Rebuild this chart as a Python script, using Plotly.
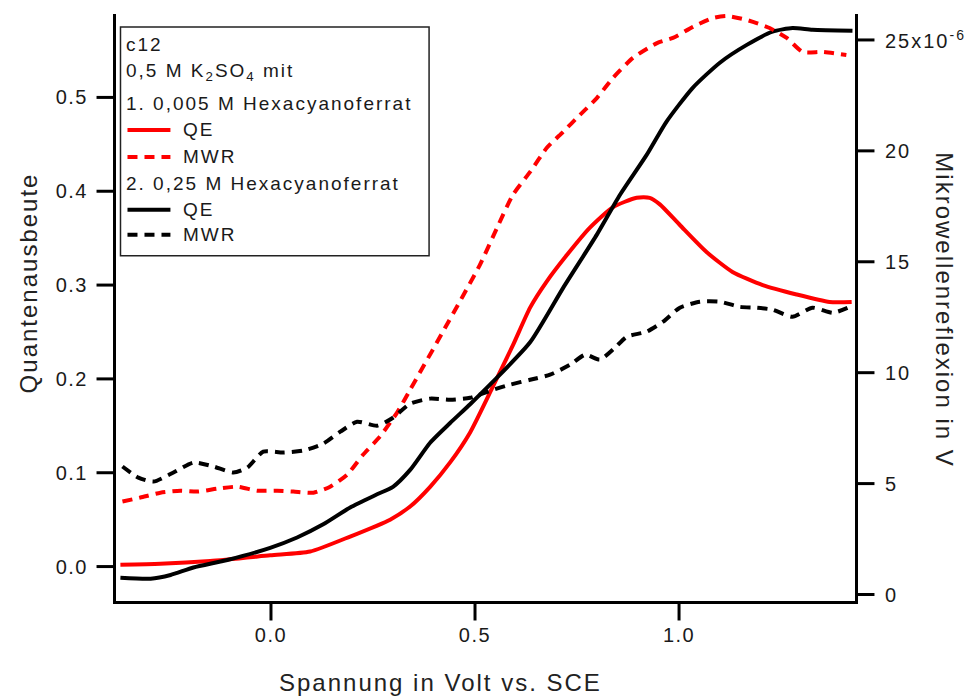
import plotly.graph_objects as go

# ---------------- data ----------------
# Red: 0.005 M Hexacyanoferrat
qe1_x = [-0.369, -0.271, -0.149, -0.002, 0.096, 0.194, 0.292, 0.341, 0.390, 0.439, 0.488, 0.544,
         0.593, 0.635, 0.676, 0.725, 0.781, 0.838, 0.896, 0.928, 0.953, 1.002, 1.068, 1.131, 1.205,
         1.288, 1.369, 1.423]
qe1_y = [0.002, 0.003, 0.006, 0.012, 0.016, 0.032, 0.050, 0.064, 0.085, 0.111, 0.143, 0.192,
         0.236, 0.276, 0.304, 0.332, 0.361, 0.383, 0.393, 0.393, 0.386, 0.364, 0.335, 0.314, 0.300,
         0.290, 0.282, 0.282]
mwr1_x = [-0.364, -0.320, -0.271, -0.222, -0.180, -0.131, -0.082, -0.034, 0.015, 0.055, 0.104, 0.145,
          0.187, 0.226, 0.267, 0.309, 0.341, 0.426, 0.512, 0.554, 0.593, 0.635, 0.676, 0.716, 0.757,
          0.799, 0.838, 0.887, 0.946, 0.985, 1.034, 1.083, 1.117, 1.166, 1.222, 1.264, 1.303, 1.352,
          1.410]
mwr1_y = [4.19, 4.37, 4.59, 4.68, 4.64, 4.77, 4.86, 4.68, 4.68, 4.64, 4.59, 4.86,
          5.41, 6.31, 7.12, 8.20, 9.23, 12.0, 14.86, 16.53, 18.02, 19.05, 20.14, 20.86, 21.62,
          22.39, 23.29, 24.19, 24.86, 25.09, 25.59, 25.99, 26.08, 25.90, 25.54, 25.09, 24.46, 24.46,
          24.32]
# Black: 0.25 M Hexacyanoferrat
qe2_x = [-0.369, -0.295, -0.246, -0.190, -0.107, -0.002, 0.064, 0.128, 0.194, 0.260, 0.299, 0.341,
         0.390, 0.439, 0.488, 0.544, 0.635, 0.716, 0.799, 0.855, 0.921, 0.969, 1.033, 1.100, 1.166,
         1.229, 1.278, 1.327, 1.425]
qe2_y = [-0.012, -0.013, -0.009, -0.001, 0.007, 0.020, 0.031, 0.045, 0.063, 0.077, 0.085, 0.103,
         0.132, 0.153, 0.173, 0.197, 0.239, 0.297, 0.354, 0.396, 0.439, 0.474, 0.510, 0.537, 0.556,
         0.570, 0.574, 0.572, 0.571]
mwr2_x = [-0.364, -0.325, -0.288, -0.239, -0.190, -0.141, -0.092, -0.058, -0.019, 0.030, 0.079, 0.128,
          0.170, 0.211, 0.260, 0.299, 0.341, 0.390, 0.439, 0.488, 0.544, 0.586, 0.635, 0.684, 0.733,
          0.770, 0.806, 0.843, 0.872, 0.921, 0.961, 1.002, 1.051, 1.100, 1.149, 1.190, 1.229, 1.278,
          1.327, 1.377, 1.414]
mwr2_y = [5.77, 5.27, 5.09, 5.50, 5.95, 5.77, 5.50, 5.72, 6.44, 6.40, 6.49, 6.80,
          7.34, 7.79, 7.61, 7.97, 8.60, 8.83, 8.78, 8.87, 9.23, 9.46, 9.68, 9.91, 10.36,
          10.81, 10.59, 11.13, 11.62, 11.85, 12.30, 12.93, 13.20, 13.20, 12.97, 12.93, 12.84, 12.52,
          12.93, 12.70, 12.93]

x_ticks = [0.0, 0.5, 1.0]
x_ticklabels = ["0.0", "0.5", "1.0"]
y_ticks = [0.0, 0.1, 0.2, 0.3, 0.4, 0.5]
y_ticklabels = ["0.0", "0.1", "0.2", "0.3", "0.4", "0.5"]
y2_ticks = [0, 5, 10, 15, 20, 25]
y2_ticklabels = ["0", "5", "10", "15", "20", "25x10<sup>-6</sup>"]

x_title = "Spannung in Volt vs. SCE"
y_title = "Quantenausbeute"
y2_title = "Mikrowellenreflexion in V"
legend_lines = [
    ("text", "c12"),
    ("text", "0,5 M K<sub>2</sub>SO<sub>4</sub> mit"),
    ("text", "1. 0,005 M Hexacyanoferrat"),
    ("red_solid", "QE"),
    ("red_dash", "MWR"),
    ("text", "2. 0,25 M Hexacyanoferrat"),
    ("black_solid", "QE"),
    ("black_dash", "MWR"),
]

# ---------------- layout geometry (pixels) ----------------
W, H = 969, 697
PL, PR, PT, PB = 115.5, 855.5, 14, 601.5
X_RANGE = [-0.3798, 1.4312]
Y_RANGE = [-0.0367, 0.5889]
Y2_RANGE = [-0.293, 26.17]
FONT = "Liberation Sans, Arial, sans-serif"
DASH = "10px,7px"
LW = 4
AXW = 3
TICKLEN = 18

def P(px, py):
    return (px - PL) / (PR - PL), (PB - py) / (PB - PT)

fig = go.Figure()
fig.add_trace(go.Scatter(x=qe1_x, y=qe1_y, mode="lines", line=dict(color="#ff0000", width=LW, shape="spline", smoothing=0.6), yaxis="y"))
fig.add_trace(go.Scatter(x=mwr1_x, y=mwr1_y, mode="lines", line=dict(color="#ff0000", width=LW, dash=DASH, shape="spline", smoothing=0.6), yaxis="y2"))
fig.add_trace(go.Scatter(x=qe2_x, y=qe2_y, mode="lines", line=dict(color="#000000", width=LW, shape="spline", smoothing=0.6), yaxis="y"))
fig.add_trace(go.Scatter(x=mwr2_x, y=mwr2_y, mode="lines", line=dict(color="#000000", width=LW, dash=DASH, shape="spline", smoothing=0.6), yaxis="y2"))

axis_common = dict(showgrid=False, zeroline=False, showline=True, linecolor="black", linewidth=AXW,
                   ticks="", tickfont=dict(family=FONT, size=20, color="#1a1a1a"))

fig.update_layout(
    width=W, height=H,
    margin=dict(l=PL, r=W - PR, t=PT, b=H - PB, pad=0),
    paper_bgcolor="white", plot_bgcolor="white",
    showlegend=False,
    xaxis=dict(range=X_RANGE, tickvals=x_ticks, ticktext=x_ticklabels, ticklabelstandoff=14, **axis_common),
    yaxis=dict(range=Y_RANGE, tickvals=y_ticks, ticktext=y_ticklabels, ticklabelstandoff=21, **axis_common),
    yaxis2=dict(range=Y2_RANGE, overlaying="y", side="right", tickvals=y2_ticks,
                showticklabels=False, **axis_common),
)

annotations = []
shapes = []

def frac(v, rng):
    return (v - rng[0]) / (rng[1] - rng[0])

# tick marks (outside), placed from the axis ranges
off = AXW / 2
for v in x_ticks:
    fx = frac(v, X_RANGE)
    shapes.append(dict(type="line", xref="paper", yref="paper", x0=fx, x1=fx,
                       y0=P(0, PB + off)[1], y1=P(0, PB + off + TICKLEN)[1],
                       line=dict(color="black", width=AXW)))
for v in y_ticks:
    fy = frac(v, Y_RANGE)
    shapes.append(dict(type="line", xref="paper", yref="paper", y0=fy, y1=fy,
                       x0=P(PL - off, 0)[0], x1=P(PL - off - TICKLEN, 0)[0],
                       line=dict(color="black", width=AXW)))
for v, lab in zip(y2_ticks, y2_ticklabels):
    fy = frac(v, Y2_RANGE)
    shapes.append(dict(type="line", xref="paper", yref="paper", y0=fy, y1=fy,
                       x0=P(PR + off, 0)[0], x1=P(PR + off + TICKLEN, 0)[0],
                       line=dict(color="black", width=AXW)))
    annotations.append(dict(text=lab, x=P(PR + off + TICKLEN + 9, 0)[0], y=fy, xref="paper", yref="paper",
                            showarrow=False, xanchor="left", yanchor="middle", align="left",
                            font=dict(family=FONT, size=20, color="#1a1a1a")))

# axis titles
for txt, (px, py), ang in [(x_title, (440, 683), 0), (y_title, (28, 283), -90), (y2_title, (945, 310), 90)]:
    ax_, ay_ = P(px, py)
    annotations.append(dict(text=txt, x=ax_, y=ay_, xref="paper", yref="paper", showarrow=False,
                            textangle=ang, xanchor="center", yanchor="middle", align="center",
                            font=dict(family=FONT, size=24, color="#222")))

# legend box
x0, y0 = P(120, 256)
x1, y1 = P(429, 27)
shapes.append(dict(type="rect", xref="paper", yref="paper", x0=x0, y0=y0, x1=x1, y1=y1,
                   line=dict(color="#222", width=1.5), fillcolor="rgba(255,255,255,0)"))
rows_y = [45, 72, 104, 130, 157, 184, 210, 235]
styles = {"red_solid": ("#ff0000", "solid"), "red_dash": ("#ff0000", DASH),
          "black_solid": ("#000000", "solid"), "black_dash": ("#000000", DASH)}
for (kind, txt), ry in zip(legend_lines, rows_y):
    if kind == "text":
        tx, ty = P(124, ry)
    else:
        col, dsh = styles[kind]
        lx0, ly = P(127, ry)
        lx1, _ = P(170, ry)
        shapes.append(dict(type="line", xref="paper", yref="paper", x0=lx0, y0=ly, x1=lx1, y1=ly,
                           line=dict(color=col, width=LW, dash=dsh)))
        tx, ty = P(181, ry)
    annotations.append(dict(text=txt, x=tx, y=ty, xref="paper", yref="paper", showarrow=False,
                            xanchor="left", yanchor="middle", align="left",
                            font=dict(family=FONT, size=19, color="#1a1a1a")))

fig.update_layout(annotations=annotations, shapes=shapes)

post = (
    "document.querySelectorAll('.xtick text, .ytick text').forEach(function(t){t.style.letterSpacing='1.5px';});"
    "document.querySelectorAll('.annotation-text').forEach(function(t){t.style.letterSpacing='2px';});"
)
fig.write_html("out.html", post_script=post)
